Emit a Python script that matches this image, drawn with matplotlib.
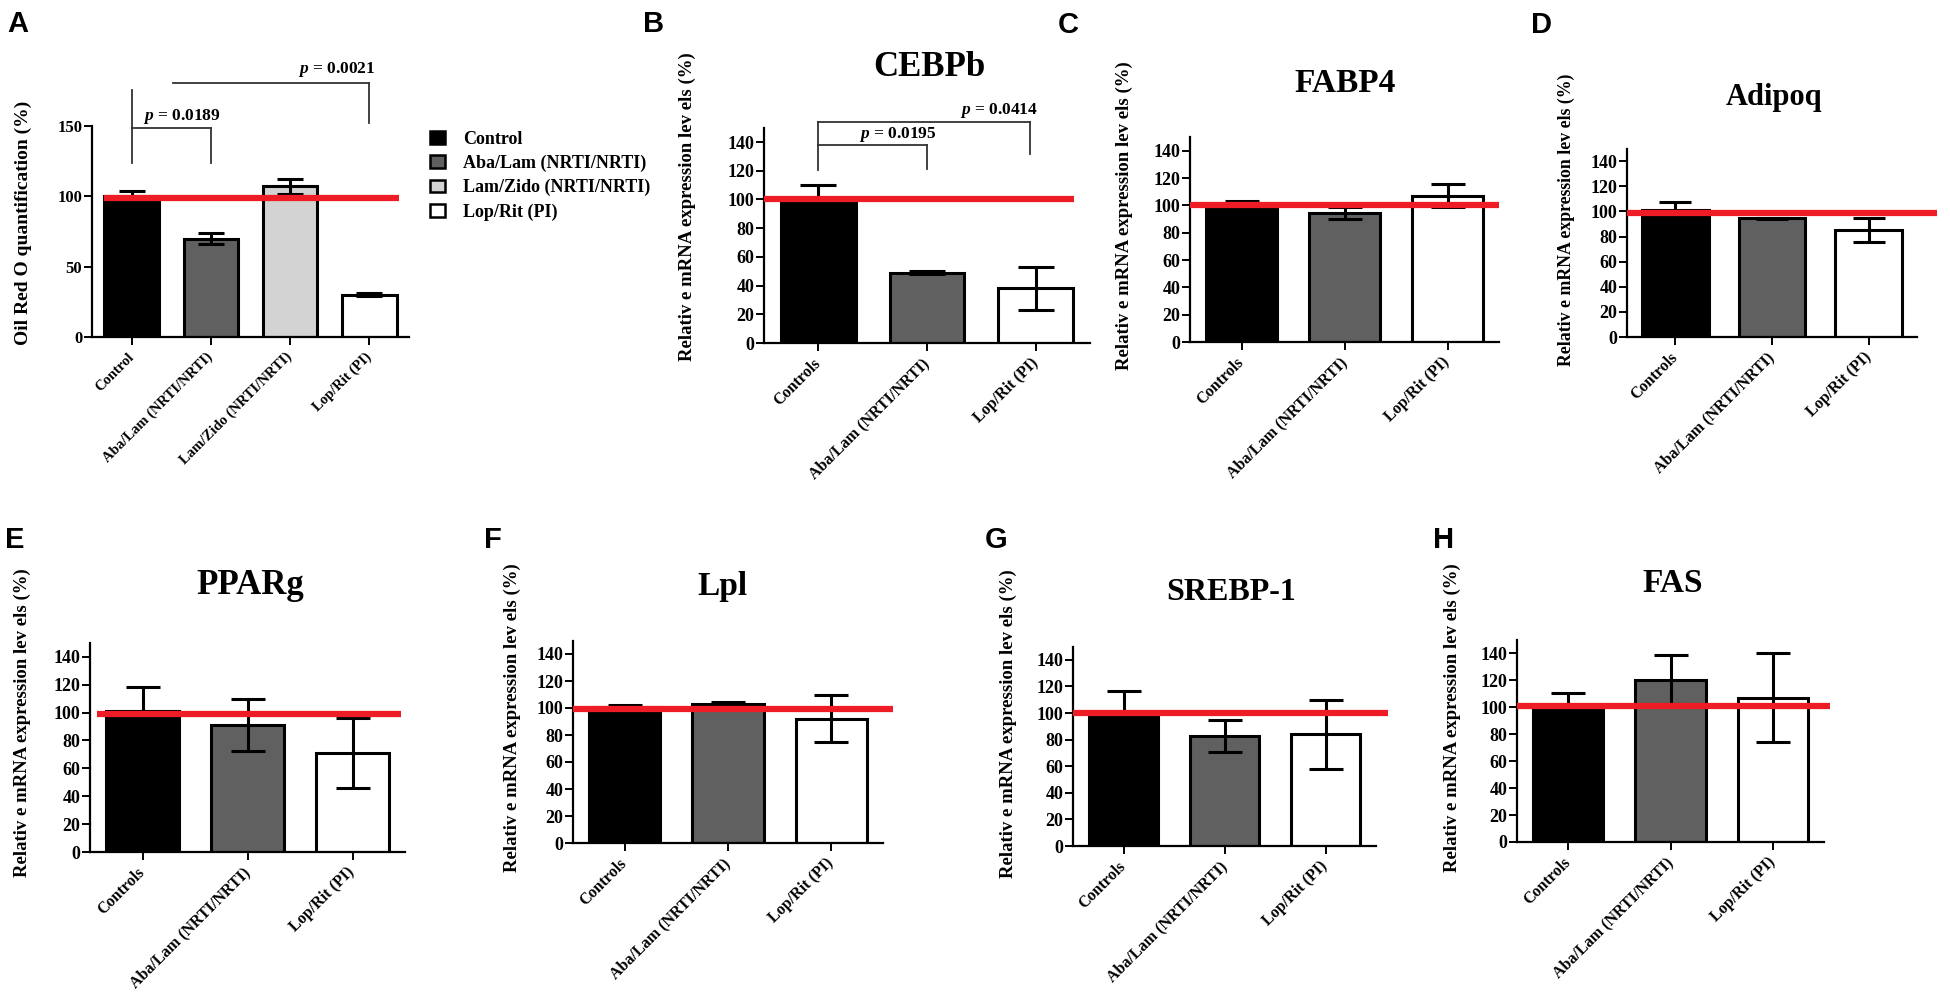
import matplotlib
matplotlib.use('Agg')
import matplotlib.pyplot as plt
from matplotlib.patches import Patch

W, H = 1950, 996
plt.rcParams['font.family'] = ['Liberation Serif', 'DejaVu Serif']
plt.rcParams['font.weight'] = 'bold'
plt.rcParams['mathtext.fontset'] = 'custom'
plt.rcParams['mathtext.it'] = 'Liberation Serif:italic:bold'
plt.rcParams['mathtext.rm'] = 'Liberation Serif:bold'

# ---------------- data ----------------
groups_A = ["Control", "Aba/Lam (NRTI/NRTI)", "Lam/Zido (NRTI/NRTI)", "Lop/Rit (PI)"]
values_A = [100, 70, 107, 30]
errors_A = [4, 4, 5, 1]
p_values_A = ["0.0189", "0.0021"]

groups_mrna = ["Controls", "Aba/Lam (NRTI/NRTI)", "Lop/Rit (PI)"]
values_CEBPb = [100, 49, 38]
errors_CEBPb = [10, 1, 15]
p_values_CEBPb = ["0.0195", "0.0414"]
values_FABP4 = [100, 94.5, 107]
errors_FABP4 = [3.5, 4.5, 8.5]
values_Adipoq = [101, 94.5, 85]
errors_Adipoq = [6.5, 0.5, 9.5]
values_PPARg = [101, 91, 71]
errors_PPARg = [17.5, 18.5, 25]
values_Lpl = [101, 103, 92]
errors_Lpl = [1, 1.5, 17.5]
values_SREBP1 = [100, 83, 84]
errors_SREBP1 = [16.5, 12, 26]
values_FAS = [100, 120.5, 107]
errors_FAS = [10.8, 18, 33]

y_label_A = "Oil Red O quantification (%)"
y_label_mrna = "Relativ e mRNA expression lev els (%)"

colors_A = ["#000000", "#606060", "#d3d3d3", "#ffffff"]
colors_mrna = ["#000000", "#606060", "#ffffff"]
RED = "#ee1c24"

fig = plt.figure(figsize=(W / 100, H / 100), dpi=100)


def fxy(px, py):
    return px / W, 1 - py / H


def make_axes(x0, x1, ytop, y0):
    return fig.add_axes([x0 / W, 1 - y0 / H, (x1 - x0) / W, (y0 - ytop) / H])


def draw_panel(rect, labels, values, errors, colors, yticks, red_level, red_span,
               letter, letter_pos, ylabel, ylabel_pos, title=None, title_pos=None,
               title_size=24, xt_size=11.5, yt_size=13, yl_size=13.5):
    x0, x1, ytop, y0 = rect
    ax = make_axes(x0, x1, ytop, y0)
    n = len(values)
    xs = list(range(n))
    spacing_px = (x1 - x0) / n
    bw = 0.69
    cap = 0.24 * bw * spacing_px / (100 / 72)
    ax.bar(xs, values, width=bw, color=colors, edgecolor='black', linewidth=2.2, zorder=2)
    ax.errorbar(xs, values, yerr=errors, fmt='none', ecolor='black', elinewidth=2.2,
                capsize=cap, capthick=2.2, zorder=3)
    ax.plot(red_span, [red_level, red_level], color=RED, lw=4.5, zorder=4,
            clip_on=False, solid_capstyle='butt')
    ax.set_xlim(-0.5, n - 0.5)
    ax.set_ylim(0, 150)
    ax.set_yticks(yticks)
    ax.set_xticks(xs)
    ax.set_xticklabels(labels, rotation=45, ha='right', va='center',
                       rotation_mode='anchor', fontsize=xt_size, fontweight='bold')
    for s in ('top', 'right'):
        ax.spines[s].set_visible(False)
    for s in ('left', 'bottom'):
        ax.spines[s].set_linewidth(1.6)
    ax.tick_params(direction='out', length=6, width=1.4)
    ax.tick_params(axis='y', labelsize=yt_size, pad=1)
    ax.tick_params(axis='x', pad=7)
    for t in ax.get_yticklabels():
        t.set_fontweight('bold')
    lx, ly = fxy(*letter_pos)
    fig.text(lx, ly, letter, fontsize=21, fontweight='bold', family='Liberation Sans',
             ha='left', va='top')
    yx, yy = fxy(*ylabel_pos)
    fig.text(yx, yy, ylabel, fontsize=yl_size, fontweight='bold', rotation=90,
             ha='center', va='center')
    if title:
        tx, ty = fxy(*title_pos)
        fig.text(tx, ty, title, fontsize=title_size, fontweight='bold',
                 ha='center', va='center')
    return ax


def bracket(ax, segs, text, tpos, color='#333333'):
    for (xa, xb, ya, yb) in segs:
        ax.plot([xa, xb], [ya, yb], color=color, lw=1.3, clip_on=False, zorder=5)
    ax.text(tpos[0], tpos[1], r'$p$ = ' + text, fontsize=12.5, fontweight='bold',
            ha='center', va='center', clip_on=False)


# ---------------- Panel A ----------------
axA = draw_panel((92, 409, 126, 337), groups_A, values_A, errors_A, colors_A,
                 [0, 50, 100, 150], 99, [-0.35, 3.38], "A", (7, 10),
                 y_label_A, (23, 223), xt_size=10.5, yt_size=12, yl_size=14)
bracket(axA, [(0, 0, 123.7, 148.6), (0, 1, 148.6, 148.6), (1, 1, 148.6, 123.7)],
        p_values_A[0], (0.64, 156.5))
bracket(axA, [(0, 0, 148.6, 175.6), (0.52, 3.0, 180.6, 180.6), (3.0, 3.0, 180.6, 152)],
        p_values_A[1], (2.59, 190))
handles = [Patch(facecolor=c, edgecolor='black', linewidth=1.8) for c in colors_A]
lx, ly = fxy(430, 131)
fig.legend(handles, groups_A, loc='upper left', bbox_to_anchor=(lx, ly),
           frameon=False, handlelength=0.85, handleheight=0.72,
           handletextpad=1.0, labelspacing=0.38, borderpad=0, borderaxespad=0,
           prop={'weight': 'bold', 'size': 13})

mt = [0, 20, 40, 60, 80, 100, 120, 140]
# ---------------- Panel B ----------------
axB = draw_panel((764, 1090, 127.7, 343), groups_mrna, values_CEBPb, errors_CEBPb,
                 colors_mrna, mt, 100.3, [-0.5, 2.35], "B", (643, 10),
                 y_label_mrna, (687, 207), "CEBPb", (929, 67), 25)
bracket(axB, [(0, 0, 120.6, 138), (0, 1, 138, 138), (1, 1, 138, 121)],
        p_values_CEBPb[0], (0.73, 145))
bracket(axB, [(0, 0, 138, 154), (0, 1.95, 154, 154), (1.95, 1.95, 154, 131.7)],
        p_values_CEBPb[1], (1.66, 162))

# ---------------- Panel C ----------------
draw_panel((1190, 1499, 137, 342), groups_mrna, values_FABP4, errors_FABP4,
           colors_mrna, mt, 100.4, [-0.5, 2.5], "C", (1058, 11),
           y_label_mrna, (1124, 216), "FABP4", (1345, 83), 24)
# ---------------- Panel D ----------------
draw_panel((1627, 1917, 148.7, 337), groups_mrna, values_Adipoq, errors_Adipoq,
           colors_mrna, mt, 98.8, [-0.5, 2.71], "D", (1531, 11),
           y_label_mrna, (1566, 220), "Adipoq", (1774, 98), 22, yl_size=12.8)
# ---------------- Panel E ----------------
draw_panel((90, 405, 642.8, 852), groups_mrna, values_PPARg, errors_PPARg,
           colors_mrna, mt, 98.9, [-0.43, 2.46], "E", (5, 526),
           y_label_mrna, (22, 723), "PPARg", (250, 585), 25)
# ---------------- Panel F ----------------
draw_panel((573, 883, 640.5, 843), groups_mrna, values_Lpl, errors_Lpl,
           colors_mrna, mt, 99.3, [-0.5, 2.6], "F", (484, 526),
           y_label_mrna, (512, 718), "Lpl", (722, 587), 24)
# ---------------- Panel G ----------------
draw_panel((1073, 1376, 646.5, 846), groups_mrna, values_SREBP1, errors_SREBP1,
           colors_mrna, mt, 100.2, [-0.5, 2.62], "G", (985, 526),
           y_label_mrna, (1008, 724), "SREBP-1", (1231, 593), 23)
# ---------------- Panel H ----------------
draw_panel((1517, 1824, 640, 842), groups_mrna, values_FAS, errors_FAS,
           colors_mrna, mt, 101, [-0.5, 2.56], "H", (1433, 526),
           y_label_mrna, (1452, 718), "FAS", (1673, 584), 24)

fig.savefig("out.png", dpi=100)
